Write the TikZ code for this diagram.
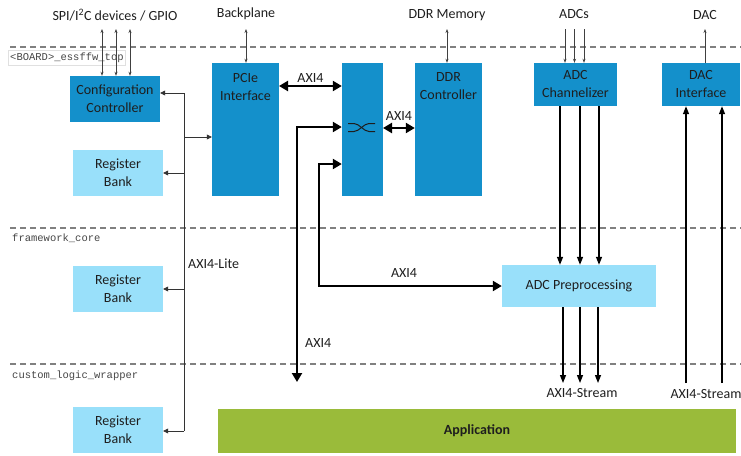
\documentclass[tikz,border=0pt]{standalone}
\usepackage{fontspec}
\setmainfont{Carlito}
\newfontfamily\codefont{Liberation Mono}
\usetikzlibrary{arrows.meta}
\definecolor{blockblue}{RGB}{20,144,203}
\definecolor{regblue}{RGB}{153,224,250}
\definecolor{appgreen}{RGB}{154,187,58}
\definecolor{txt}{RGB}{30,30,30}
\definecolor{sepgray}{RGB}{128,128,128}
\definecolor{codegray}{RGB}{70,70,70}
\begin{document}
\begin{tikzpicture}[x=1pt,y=-1pt,
  block/.style={fill=blockblue,inner sep=0pt},
  regbox/.style={fill=regblue,inner sep=0pt,minimum width=90pt,minimum height=46pt,
    font=\fontsize{14}{18}\selectfont,text=txt,align=center},
  boxtext/.style={font=\fontsize{14}{18}\selectfont,text=txt,align=center,inner sep=0pt},
  lbl/.style={font=\fontsize{14}{17}\selectfont,text=txt,inner sep=0pt},
  codelabel/.style={font=\codefont\fontsize{10.5}{12}\selectfont,text=codegray,anchor=west,inner sep=2pt},
  sep/.style={sepgray,line width=1.1pt,dash pattern=on 6pt off 4pt},
  sigboth/.style={line width=0.6pt,draw=black!75,{Stealth[length=4pt,width=3pt]}-{Stealth[length=4pt,width=3pt]}},
  sigin/.style={line width=0.6pt,draw=black!75,-{Stealth[length=4pt,width=3pt]}},
  lite/.style={line width=0.7pt,draw=black!80,-{Triangle[length=5pt,width=5pt]}},
  widepair/.style={line width=2.3pt,{Triangle[length=9pt,width=10pt]}-{Triangle[length=9pt,width=10pt]}},
  stream/.style={line width=1.3pt,-{Triangle[length=8pt,width=6pt]}}]
\useasboundingbox (0,0) rectangle (741,455);

% hierarchy separators
\draw[sep] (10,47) -- (741,47);
\draw[sep] (10,228) -- (741,228);
\draw[sep] (10,364) -- (741,364);
\node[codelabel,draw=black!12,fill=white,minimum height=15pt] (lvltop) at (8,58) {<BOARD>\_essffw\_top};
\node[codelabel] (lvlcore) at (10,238) {framework\_core};
\node[codelabel] (lvlwrap) at (10,376) {custom\_logic\_wrapper};

% external interfaces
\node[lbl] (spi) at (115,15) {SPI/I\textsuperscript{2}C devices / GPIO};
\node[lbl] (bp) at (246,14) {Backplane};
\node[lbl] (ddrmem) at (447,15) {DDR Memory};
\node[lbl] (adcs) at (574,14) {ADCs};
\node[lbl] (dac) at (705,15) {DAC};

% blocks
\node[block,minimum width=90pt,minimum height=46pt] (cfg) at (115,99) {};
\node[boxtext] at (cfg.center) {Configuration\\Controller};
\node[block,minimum width=67pt,minimum height=133pt] (pcie) at (245.5,129.5) {};
\node[boxtext,anchor=north] at ([yshift=-10pt]pcie.north) {PCIe\\Interface};
\node[block,minimum width=41pt,minimum height=133pt] (xbar) at (362.5,129.5) {};
\node[block,minimum width=67pt,minimum height=133pt] (ddr) at (448.5,129.5) {};
\node[boxtext,anchor=north] at ([yshift=-10pt]ddr.north) {DDR\\Controller};
\node[block,minimum width=83pt,minimum height=43pt] (chan) at (575.5,84.5) {};
\node[boxtext] at (chan.center) {ADC\\Channelizer};
\node[block,minimum width=78pt,minimum height=43pt] (dacif) at (701,84.5) {};
\node[boxtext] at (dacif.center) {DAC\\Interface};

\node[regbox] (reg1) at (118,173) {Register\\Bank};
\node[regbox] (reg2) at (118,289) {Register\\Bank};
\node[regbox] (reg3) at (118,430) {Register\\Bank};
\node[fill=regblue,minimum width=154pt,minimum height=42pt,boxtext] (pre) at (579,286) {ADC Preprocessing};
\node[fill=appgreen,minimum width=518pt,minimum height=44pt,boxtext,font=\fontsize{14}{18}\selectfont\bfseries] (app) at (477,431) {Application};

% crossbar symbol
\draw[line width=1pt,txt] (348,123.5) -- (354,123.5) .. controls (359,123.5) and (364,131.5) .. (369,131.5) -- (375,131.5);
\draw[line width=1pt,txt] (348,131.5) -- (354,131.5) .. controls (359,131.5) and (364,123.5) .. (369,123.5) -- (375,123.5);

% external signal ends
\coordinate (spiA) at (102,29);
\coordinate (spiB) at (116,29);
\coordinate (spiC) at (130,29);
\coordinate (bpEnd) at (246,29);
\coordinate (ddrEnd) at (447,29);
\coordinate (adcA) at (565,29);
\coordinate (adcB) at (574.5,29);
\coordinate (adcC) at (584,29);
\coordinate (dacEnd) at (705,29);
\draw[sigboth] (spiA) -- (spiA |- cfg.north);
\draw[sigboth] (spiB) -- (spiB |- cfg.north);
\draw[sigboth] (spiC) -- (spiC |- cfg.north);
\draw[sigboth] (bpEnd) -- (bpEnd |- pcie.north);
\draw[sigboth] (ddrEnd) -- (ddrEnd |- ddr.north);
\draw[sigin] (adcA) -- (adcA |- chan.north);
\draw[sigin] (adcB) -- (adcB |- chan.north);
\draw[sigin] (adcC) -- (adcC |- chan.north);
\draw[sigin] (dacEnd |- dacif.north) -- (dacEnd);

% AXI4-Lite register bus
\coordinate (liteTop) at (184,93);
\coordinate (litePcie) at (184,137);
\coordinate (liteBot) at (184,431);
\draw[line width=0.7pt,draw=black!80] (liteTop) -- (liteBot);
\draw[lite] (liteTop) -- (liteTop -| cfg.east);
\draw[lite] (litePcie) -- (litePcie -| pcie.west);
\draw[lite] (reg1.east -| liteTop) -- (reg1.east);
\draw[lite] (reg2.east -| liteTop) -- (reg2.east);
\draw[lite] (liteBot) -- (liteBot -| reg3.east);
\node[lbl,anchor=west] (litelbl) at (188,264) {AXI4-Lite};

% AXI4 memory-mapped links
\coordinate (pcieRow) at (279,86);
\draw[widepair] (pcieRow) -- (pcieRow -| xbar.west) node[midway,above=2pt,lbl] {AXI4};
\coordinate (ddrRow) at (383,128);
\draw[widepair] (ddrRow) -- (ddrRow -| ddr.west) node[midway,above=6pt,lbl] {AXI4};
\coordinate (appEnd) at (297,382);
\coordinate (xIn1) at (342,127);
\draw[widepair] (appEnd) |- (xIn1 -| xbar.west);
\node[lbl,anchor=west] at (305,343) {AXI4};
\coordinate (xIn2) at (342,164);
\coordinate (preRow) at (319,286);
\draw[widepair] (xIn2 -| xbar.west) -| (preRow) -- (preRow -| pre.west);
\node[lbl] at (404,273) {AXI4};

% AXI4-Stream data paths
\coordinate (chA) at (560,106);
\coordinate (chB) at (580,106);
\coordinate (chC) at (599,106);
\draw[stream] (chA) -- (chA |- pre.north);
\draw[stream] (chB) -- (chB |- pre.north);
\draw[stream] (chC) -- (chC |- pre.north);
\coordinate (stA) at (563,383);
\coordinate (stB) at (580,383);
\coordinate (stC) at (598,383);
\draw[stream] (stA |- pre.south) -- (stA);
\draw[stream] (stB |- pre.south) -- (stB);
\draw[stream] (stC |- pre.south) -- (stC);
\node[lbl] at (582,393) {AXI4-Stream};
\coordinate (daA) at (686,383);
\coordinate (daB) at (722,383);
\draw[stream] (daA) -- (daA |- dacif.south);
\draw[stream] (daB) -- (daB |- dacif.south);
\node[lbl] at (706,394) {AXI4-Stream};
\end{tikzpicture}
\end{document}
